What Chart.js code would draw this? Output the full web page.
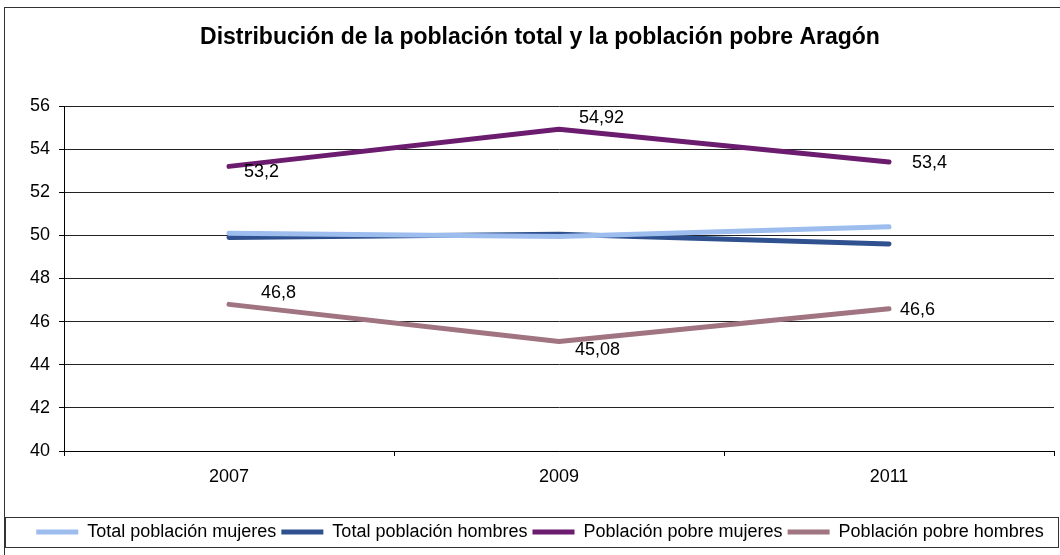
<!DOCTYPE html>
<html lang="es">
  <head>
    <meta charset="UTF-8" />
    <title>Distribución de la población total y la población pobre Aragón</title>
    <script src="https://cdn.jsdelivr.net/npm/chart.js"></script>
    <style>
      html, body { margin: 0; padding: 0; background: #fff; overflow: hidden; }
      #frame {
        position: absolute;
        left: 4px;
        top: 7px;
        width: 1070px;
        height: 560px;
        border: 1px solid #333;
      }
      #chart { display: block; }
    </style>
  </head>
  <body>
    <div id="frame">
      <canvas id="chart" width="1070" height="560"></canvas>
    </div>

    <script>
      // data
      const years = ["2007", "2009", "2011"];
      const totalMujeres = [50.1, 49.95, 50.4];
      const totalHombres = [49.9, 50.05, 49.6];
      const pobreMujeres = [53.2, 54.92, 53.4];
      const pobreHombres = [46.8, 45.08, 46.6];
      const yTicks = [40, 42, 44, 46, 48, 50, 52, 54, 56];

      // where Excel put each value label, relative to its point (style only)
      const offsetsPobreMujeres = [[15, 6], [20, -11], [23, 1]];
      const offsetsPobreHombres = [[32, -11], [16, 9], [11, 1]];

      const FONT = "'Liberation Sans', Arial, sans-serif";

      function line(label, data, color, offsets) {
        return {
          label: label,
          data: data,
          borderColor: color,
          backgroundColor: color,
          borderWidth: 5,
          borderCapStyle: "round",
          borderJoinStyle: "round",
          pointRadius: 0,
          pointHoverRadius: 0,
          tension: 0,
          labelOffsets: offsets,
        };
      }

      // value labels next to the points
      const valueLabels = {
        id: "valueLabels",
        afterDatasetsDraw(chart) {
          const ctx = chart.ctx;
          ctx.save();
          ctx.font = "18px " + FONT;
          ctx.fillStyle = "#000";
          ctx.textAlign = "left";
          ctx.textBaseline = "middle";
          chart.data.datasets.forEach((ds, i) => {
            if (!ds.labelOffsets) return;
            const meta = chart.getDatasetMeta(i);
            meta.data.forEach((pt, j) => {
              const off = ds.labelOffsets[j];
              const txt = String(ds.data[j]).replace(".", ",");
              ctx.fillText(txt, pt.x + off[0], pt.y + off[1]);
            });
          });
          ctx.restore();
        },
      };

      // frame round the legend
      const legendFrame = {
        id: "legendFrame",
        afterDraw(chart) {
          const lg = chart.legend;
          const ctx = chart.ctx;
          ctx.save();
          ctx.strokeStyle = "#333";
          ctx.lineWidth = 1;
          ctx.strokeRect(0.5, lg.top - 0.5, chart.chartArea.right + 4, 30);
          ctx.restore();
        },
      };

      const ctx = document.getElementById("chart").getContext("2d");
      new Chart(ctx, {
        type: "line",
        data: {
          labels: years,
          datasets: [
            line("Total población mujeres", totalMujeres, "#9dbdee", null),
            line("Total población hombres", totalHombres, "#2f518f", null),
            line("Población pobre mujeres", pobreMujeres, "#6b1c6e", offsetsPobreMujeres),
            line("Población pobre hombres", pobreHombres, "#a07481", offsetsPobreHombres),
          ],
        },
        options: {
          responsive: false,
          animation: false,
          events: [],
          layout: { padding: { left: 21, right: 21, top: 0, bottom: 17 } },
          plugins: {
            title: {
              display: true,
              text: "Distribución de la población total y la población pobre Aragón",
              color: "#000",
              font: { family: FONT, size: 23, weight: "bold" },
              padding: { top: 16.2, bottom: 54.2 },
            },
            legend: {
              position: "bottom",
              labels: {
                color: "#000",
                font: { family: FONT, size: 18 },
                boxWidth: 42,
                boxHeight: 5,
                padding: 5,
                generateLabels(chart) {
                  const items = Chart.defaults.plugins.legend.labels.generateLabels(chart);
                  items.forEach((it) => { it.lineWidth = 0; });
                  return items;
                },
              },
            },
            tooltip: { enabled: false },
          },
          scales: {
            x: {
              offset: true,
              afterFit(scale) { scale.height = 67; },
              grid: {
                offset: true,
                drawOnChartArea: true,
                color: (c) => (c.index === years.length ? "#666" : "rgba(0,0,0,0)"),
                tickColor: "#000",
                tickLength: 5,
              },
              border: { color: "#000", width: 1 },
              ticks: {
                color: "#000",
                font: { family: FONT, size: 18 },
                padding: 10,
              },
            },
            y: {
              min: 40,
              max: 56,
              afterFit(scale) { scale.width = 38; },
              afterBuildTicks(scale) {
                scale.ticks = yTicks.map((v) => ({ value: v }));
              },
              grid: {
                color: "#222",
                tickColor: "#000",
                tickLength: 5,
              },
              border: { color: "#000", width: 1 },
              ticks: {
                color: "#000",
                font: { family: FONT, size: 18 },
                padding: 9,
              },
            },
          },
        },
        plugins: [valueLabels, legendFrame],
      });
    </script>
  </body>
</html>
